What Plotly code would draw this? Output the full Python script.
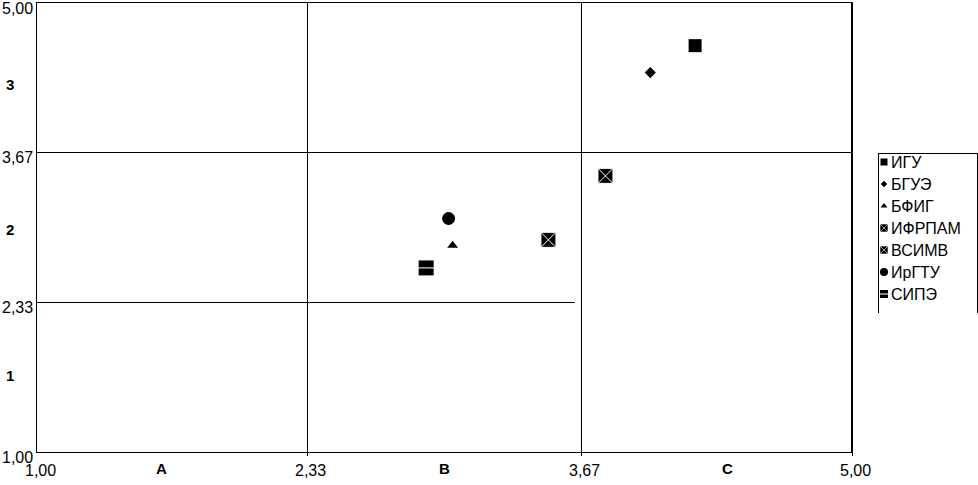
import plotly.graph_objects as go

# ---- data ----
names = ["ИГУ", "БГУЭ", "БФИГ", "ИФРПАМ", "ВСИМВ", "ИрГТУ", "СИПЭ"]
x_vals = [4.23, 4.01, 3.04, 3.79, 3.51, 3.02, 2.91]
y_vals = [4.62, 4.38, 2.84, 3.46, 2.89, 3.08, 2.64]

bounds = [1.00, 2.33, 3.67, 5.00]
bound_labels = ["1,00", "2,33", "3,67", "5,00"]
x_groups = ["A", "B", "C"]
x_group_pos = [1.61, 3.00, 4.39]
y_groups = ["3", "2", "1"]
y_group_pos = [4.27, 2.98, 1.68]

# ---- styles ----
symbols = ["square", "diamond", "triangle-up", "square-x", "square-x", "circle", "square"]
sizes = [13, 8.5, 9.5, 15, 15, 13, 15]
leg_sizes = [7, 5, 6, 8, 8, 8, 8]
line_w = [0, 0, 0, 1, 1, 0, 0]

W, H = 978, 485
ML, MR, MT, MB = 37, 0, 3, 33
PW = W - ML - MR
PH = H - MT - MB
PLOT_RIGHT = 852
FONT = "Liberation Sans, Arial, sans-serif"


def px_x(p):
    return (p - ML) / PW


def px_y(p):
    return (H - MB - p) / PH


fig = go.Figure()

for i, n in enumerate(names):
    fig.add_trace(go.Scatter(
        x=[x_vals[i]], y=[y_vals[i]], mode="markers", name=n, showlegend=False,
        marker=dict(symbol=symbols[i], size=sizes[i], color="black",
                    line=dict(color="white", width=line_w[i])),
        xaxis="x", yaxis="y", cliponaxis=False))
# white stroke on the СИПЭ marker
fig.add_trace(go.Scatter(
    x=[x_vals[6]], y=[y_vals[6]], mode="markers", showlegend=False,
    marker=dict(symbol="line-ew", size=12, color="white",
                line=dict(color="white", width=1)), hoverinfo="skip"))

# ---- custom legend on its own pixel-scaled axes ----
LEG_LEFT, LEG_TOP, LEG_ROW0, LEG_STEP = 878, 153, 162, 22
leg_y = [LEG_ROW0 + LEG_STEP * i for i in range(len(names))]
for i, n in enumerate(names):
    fig.add_trace(go.Scatter(
        x=[LEG_LEFT + 6], y=[leg_y[i]], mode="markers", showlegend=False,
        marker=dict(symbol=symbols[i], size=leg_sizes[i], color="black",
                    line=dict(color="white", width=line_w[i] * 0.6)),
        xaxis="x2", yaxis="y2", cliponaxis=False, hoverinfo="skip"))
fig.add_trace(go.Scatter(
    x=[LEG_LEFT + 6], y=[leg_y[6]], mode="markers", showlegend=False,
    marker=dict(symbol="line-ew", size=7, color="white",
                line=dict(color="white", width=1)),
    xaxis="x2", yaxis="y2", cliponaxis=False, hoverinfo="skip"))

annotations = []
for i, n in enumerate(names):
    annotations.append(dict(x=LEG_LEFT + 11, y=leg_y[i], xref="x2", yref="y2",
                            text=n, showarrow=False, xanchor="left", yanchor="middle",
                            font=dict(family=FONT, size=16, color="black")))

# axis numeric labels
for v, t in zip(bounds, bound_labels):
    annotations.append(dict(x=v, y=0, xref="x", yref="paper", text=t, showarrow=False,
                            xanchor="center", yanchor="top", xshift=3, yshift=-8,
                            font=dict(family=FONT, size=16, color="black")))
    annotations.append(dict(x=0, y=v, xref="paper", yref="y", text=t, showarrow=False,
                            xanchor="right", yanchor="middle", xshift=-2, yshift=-5,
                            font=dict(family=FONT, size=16, color="black")))
for v, t in zip(x_group_pos, x_groups):
    annotations.append(dict(x=v, y=0, xref="x", yref="paper", text="<b>%s</b>" % t,
                            showarrow=False, xanchor="center", yanchor="top", yshift=-6,
                            font=dict(family=FONT, size=15, color="black")))
for v, t in zip(y_group_pos, y_groups):
    annotations.append(dict(x=0, y=v, xref="paper", yref="y", text="<b>%s</b>" % t,
                            showarrow=False, xanchor="center", yanchor="middle", xshift=-27,
                            font=dict(family=FONT, size=15, color="black")))

# ---- grid / frame shapes ----
shapes = []
ln = dict(color="black", width=1)
for v in bounds[1:3]:
    shapes.append(dict(type="line", xref="x", yref="y", x0=v, x1=v, y0=bounds[0], y1=bounds[-1],
                       line=ln, layer="below"))
shapes.append(dict(type="line", xref="x", yref="y", x0=bounds[0], x1=bounds[-1],
                   y0=bounds[2], y1=bounds[2], line=ln, layer="below"))
shapes.append(dict(type="line", xref="x", yref="y", x0=bounds[0], x1=3.64,
                   y0=bounds[1], y1=bounds[1], line=ln, layer="below"))
shapes.append(dict(type="line", xref="x", yref="y", x0=bounds[-1], x1=bounds[-1],
                   y0=bounds[0], y1=bounds[-1], line=dict(color="black", width=2)))
# legend frame (open at bottom, clipped at the right)
lx0, lx1, ly0, ly1 = px_x(LEG_LEFT + 0.5), px_x(977.5), px_y(LEG_TOP + 0.5), px_y(313)
shapes.append(dict(type="path", xref="paper", yref="paper",
                   path=f"M {lx0} {ly1} L {lx0} {ly0} L {lx1} {ly0} L {lx1} {ly1}",
                   line=dict(color="black", width=1)))

main_dom = (PLOT_RIGHT - ML) / PW

fig.update_layout(
    width=W, height=H,
    margin=dict(l=ML, r=MR, t=MT, b=MB, pad=0, autoexpand=False),
    paper_bgcolor="white", plot_bgcolor="white",
    showlegend=False,
    font=dict(family=FONT, color="black"),
    xaxis=dict(domain=[0, main_dom], range=[bounds[0], bounds[-1]], showgrid=False,
               zeroline=False, showline=True, mirror=True, linecolor="black", linewidth=1,
               ticks="outside", ticklen=3, tickcolor="black", tickvals=bounds[1:],
               showticklabels=False, anchor="y", fixedrange=True),
    yaxis=dict(domain=[0, 1], range=[bounds[0], bounds[-1]], showgrid=False,
               zeroline=False, showline=True, mirror=True, linecolor="black", linewidth=1,
               ticks="", showticklabels=False, anchor="x", fixedrange=True),
    xaxis2=dict(domain=[px_x(LEG_LEFT), 1], range=[LEG_LEFT, W], visible=False,
                anchor="y2", fixedrange=True),
    yaxis2=dict(domain=[0, 1], range=[H - MB, MT], visible=False, anchor="x2",
                fixedrange=True),
    annotations=annotations,
    shapes=shapes,
)

fig.write_html(
    "out.html", config={"displayModeBar": False},
    post_script=("document.body.style.margin='0';document.body.style.overflow='hidden';"
                 "document.querySelectorAll('.shapelayer path').forEach(function(p){"
                 "p.style.shapeRendering='crispEdges';});"))
